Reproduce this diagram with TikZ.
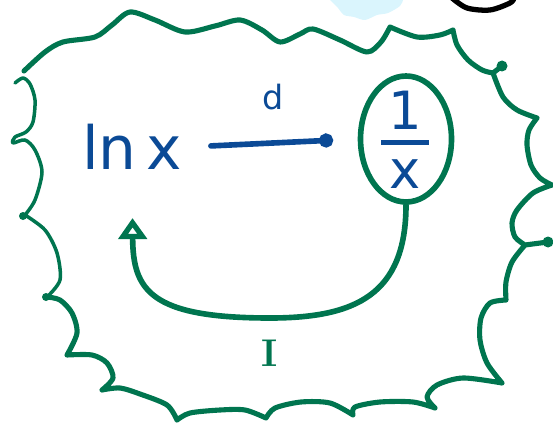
\documentclass[tikz,border=0pt]{standalone}
\usepackage{fontspec}
\setsansfont{DejaVu Sans}
\usetikzlibrary{arrows.meta,shapes.geometric}
\definecolor{inkgreen}{HTML}{00754F}
\definecolor{inkblue}{HTML}{0B4A96}
\definecolor{skyblue}{HTML}{DAF5FD}
\setlength{\arrayrulewidth}{2.8pt}
\tikzset{
  bubble/.style={draw=inkgreen,line width=2.9pt,line cap=round,line join=round},
  bubblethin/.style={bubble,line width=2pt},
  ink/.style={text=inkblue,font=\sffamily\fontsize{#1}{#1}\selectfont},
  greenpen/.style={draw=inkgreen,line width=3.2pt,line cap=round,line join=round},
  bluepen/.style={draw=inkblue,line width=3.2pt,line cap=round},
  oval/.style={ellipse,greenpen,minimum width=1.82cm,minimum height=2.52cm,inner sep=0pt},
}
\begin{document}
\begin{tikzpicture}[x=0.02cm,y=-0.02cm]
\useasboundingbox (0,0) rectangle (553,425);
\fill[skyblue] plot[smooth] coordinates {(330,0) (338,8) (344,15) (354,17) (365,20) (377,15) (388,13) (400,6) (403,0)} -- (403,-5) -- (330,-5) -- cycle;
\draw[line width=3pt,line cap=round] plot[smooth] coordinates {(452,-2) (467,8) (490,10) (510,3) (514,-2)};
\draw[bubble]
  plot[smooth] coordinates {(24,71) (45,52) (63,42) (95,37) (112,25) (130,12) (155,20) (185,32) (215,26) (240,20) (262,30) (280,42) (300,34) (313,29) (340,40) (367,52) (381,42) (390,27)}
  plot[smooth] coordinates {(390,27) (417,37) (440,35) (453,30)}
  plot[smooth] coordinates {(453,30) (457,45) (468,60) (482,70) (493,73)}
  plot[smooth] coordinates {(493,73) (503,97) (517,110) (537,118)}
  plot[smooth] coordinates {(537,118) (529,130) (527,145) (531,165) (540,178) (552,185)}
  plot[smooth] coordinates {(552,185) (533,193) (517,210) (512,223) (515,237) (525,245)}
  plot[smooth] coordinates {(525,245) (512,262) (506,282) (506,300)}
  plot[smooth] coordinates {(506,300) (490,303) (481,318) (480,340) (487,363) (502,383)}
  plot[smooth] coordinates {(502,383) (463,378) (437,385) (427,397) (435,408)}
  plot[smooth] coordinates {(435,408) (413,402) (380,402) (355,407) (353,415)}
  plot[smooth] coordinates {(353,415) (330,403) (301,402) (275,408) (266,418)}
  plot[smooth] coordinates {(266,418) (245,410) (220,410) (190,413) (177,420)}
  plot[smooth] coordinates {(177,420) (167,405) (140,394) (120,388) (102,390)}
  plot[smooth] coordinates {(102,390) (113,378) (107,363) (92,355) (67,355)}
  plot[smooth] coordinates {(67,355) (77,333) (72,313) (60,300) (47,297)}
  (493,73) -- (502,66) (525,245) -- (548,242);
\draw[bubblethin]
  plot[smooth] coordinates {(47,297) (60,280) (57,253) (45,230) (25,215)}
  plot[smooth] coordinates {(25,215) (35,200) (42,172) (35,150) (25,140) (13,143) (15,137) (26,132) (33,122) (35,100) (30,84) (23,78) (15,83)};
\fill[inkgreen] (502,66) circle[radius=5.5] (548,242) circle[radius=5.5] (46,297) circle[radius=4] (23,216) circle[radius=4];
\node[ink=34] (lnx) at (132,147) {ln\,x};
\node[oval] (ring) at (406,139) {};
\node[ink=30] (frac) at (405,148) {\begin{tabular}{@{\hspace{4pt}}c@{\hspace{4pt}}}1\\[-3pt]\hline\rule{0pt}{25pt}x\end{tabular}};
\draw[bluepen,-{Circle[length=8pt]},shorten <=13pt,shorten >=14pt] (lnx.east) -- node[ink=19,above=14pt] (dlab) {d} (ring.west);
\draw[greenpen,-{Triangle[open,length=12pt,width=16pt]},shorten >=24pt] (ring.south) .. controls (406,295) and (355,318) .. (270,318) node[below=7.5pt,text=inkgreen,font=\rmfamily\bfseries\fontsize{22}{22}\selectfont] (ilab) {I} .. controls (150,318) and (133,290) .. (lnx);
\end{tikzpicture}
\end{document}
